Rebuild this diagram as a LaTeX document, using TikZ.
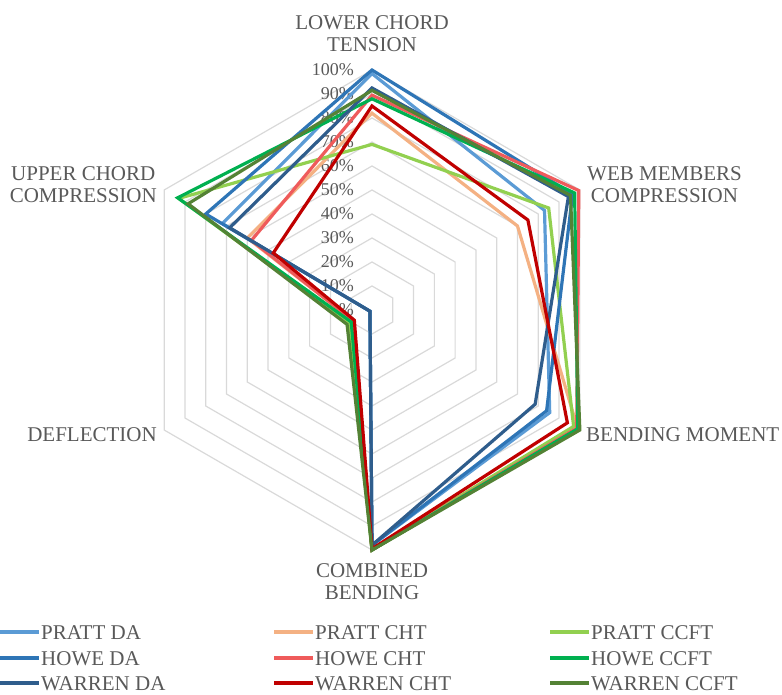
\documentclass[tikz,border=0pt]{standalone}
\usepackage{fontspec}
\setmainfont{Liberation Serif}
\definecolor{gridgray}{HTML}{D9D9D9}
\definecolor{txtgray}{HTML}{595959}
\definecolor{pdaC}{HTML}{5B9BD5}
\definecolor{pchtC}{HTML}{F4B183}
\definecolor{pccftC}{HTML}{92D050}
\definecolor{hdaC}{HTML}{2E75B6}
\definecolor{hchtC}{HTML}{EF5B5B}
\definecolor{hccftC}{HTML}{00B050}
\definecolor{wdaC}{HTML}{2F5D8C}
\definecolor{wchtC}{HTML}{C00000}
\definecolor{wccftC}{HTML}{548235}
\begin{document}
\begin{tikzpicture}[x=1pt,y=1pt,
  gridc/.style={draw=gridgray,line width=1.2pt},
  serie/.style={line width=3.2pt,line join=miter,miter limit=3},
  lab/.style={text=txtgray,font=\fontsize{21}{22.5}\selectfont,inner sep=0pt,align=center},
  pct/.style={text=txtgray,font=\fontsize{18}{20}\selectfont,inner sep=0pt,anchor=east},
  legline/.style={line width=3.5pt},
  legtxt/.style={text=txtgray,font=\fontsize{21}{22}\selectfont,inner sep=0pt,anchor=west}]
\useasboundingbox (0,0) rectangle (782,694);
\begin{scope}[shift={(372,384)}]
  % grid hexagons
  \foreach \k in {1,...,10}{
    \draw[gridc] ({90}:{\k*24}) -- ({30}:{\k*24}) -- ({-30}:{\k*24}) -- ({-90}:{\k*24}) -- ({-150}:{\k*24}) -- ({150}:{\k*24}) -- cycle;
  }
  % percent labels
  \foreach \k in {0,...,10}{
    \node[pct] (pct\k) at (-18,{\k*24}) {\number\numexpr\k*10\relax\%};
  }
  % series
  \foreach \col/\va/\vb/\vc/\vd/\ve/\vf in {
    pdaC/0.985/0.83/0.855/0.98/0.01/0.72,
    pchtC/0.82/0.70/0.99/1.0/0.09/0.60,
    pccftC/0.69/0.85/0.97/1.0/0.11/0.93,
    hdaC/1.0/0.965/0.84/0.98/0.01/0.80,
    hchtC/0.895/0.995/0.985/1.0/0.09/0.58,
    hccftC/0.88/0.975/0.99/1.0/0.10/0.935,
    wdaC/0.925/0.945/0.785/0.98/0.01/0.685,
    wchtC/0.85/0.75/0.94/0.995/0.085/0.475,
    wccftC/0.915/0.955/1.0/1.0/0.12/0.885}{
    \draw[serie,draw=\col] ({90}:{\va*240}) -- ({30}:{\vb*240}) -- ({-30}:{\vc*240}) -- ({-90}:{\vd*240}) -- ({-150}:{\ve*240}) -- ({150}:{\vf*240}) -- cycle;
  }
\end{scope}
% axis labels
\node[lab,anchor=north] (lct) at (372,679) {LOWER CHORD\\TENSION};
\node[lab,anchor=south west] (wmc) at (587,491) {WEB MEMBERS\\COMPRESSION};
\node[lab,anchor=base west] (bm) at (586,252) {BENDING MOMENT};
\node[lab,anchor=north] (cb) at (372,131) {COMBINED\\BENDING};
\node[lab,anchor=base east] (def) at (157,252) {DEFLECTION};
\node[lab,anchor=south east] (ucc) at (157,491) {UPPER CHORD\\COMPRESSION};
% legend
\foreach \col/\x/\y/\t/\n in {
  pdaC/0/62/PRATT DA/l1, pchtC/274/62/PRATT CHT/l2, pccftC/550/62/PRATT CCFT/l3,
  hdaC/0/36/HOWE DA/l4, hchtC/274/36/HOWE CHT/l5, hccftC/550/36/HOWE CCFT/l6,
  wdaC/0/11/WARREN DA/l7, wchtC/274/11/WARREN CHT/l8, wccftC/550/11/WARREN CCFT/l9}{
  \coordinate (\n a) at (\x,\y);
  \coordinate (\n b) at ({\x+39},\y);
  \draw[legline,draw=\col] (\n a) -- (\n b);
  \node[legtxt] (\n t) at ({\x+41},{\y-1}) {\t};
}
\end{tikzpicture}
\end{document}
